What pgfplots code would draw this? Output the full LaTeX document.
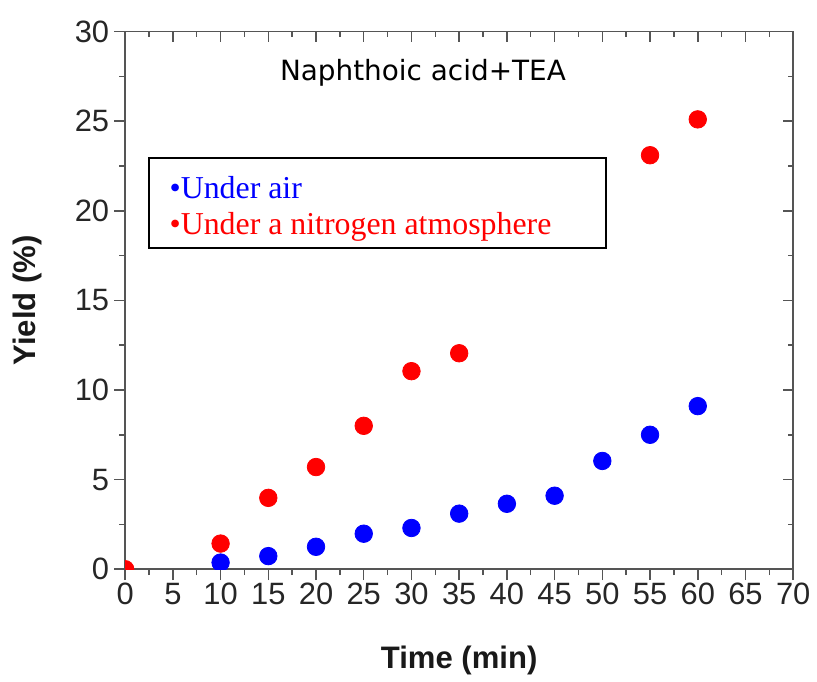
\documentclass[border=0pt]{standalone}
\usepackage{fontspec}
\setmainfont{Liberation Sans}
\newfontfamily\seriffont{Liberation Serif}
\newfontfamily\titlefont{DejaVu Sans}
\usepackage{pgfplots}
\pgfplotsset{compat=1.18}
\definecolor{axgray}{RGB}{85,85,85}
\begin{document}
\begin{tikzpicture}
\path (-62.85pt,-53.65pt) rectangle (345.65pt,285.85pt);
\begin{axis}[
  at={(0,0)}, anchor=south west, scale only axis,
  width=335.5pt, height=270pt,
  xmin=0, xmax=70, ymin=0, ymax=30,
  clip marker paths=true,
  xtick={0,5,...,70}, ytick={0,5,...,30},
  minor x tick num=1, minor y tick num=1,
  xtick pos=bottom, ytick pos=left,
  tick align=outside,
  major tick length=5.5pt, minor tick length=3pt,
  axis line style={axgray, line width=0.75pt},
  every tick/.style={axgray, line width=0.75pt},
  tick label style={font=\fontsize{15.5}{18}\selectfont, text=black!85},
  /pgf/number format/assume math mode=true,
  xticklabel style={yshift=2pt},
  yticklabel style={xshift=1pt},
  xlabel={Time (min)}, ylabel={Yield (\%)},
  every axis x label/.style={at={(axis description cs:0.5,-0.169)},anchor=center,
    font=\fontsize{15.6}{18}\selectfont\bfseries, text=black!90},
  every axis y label/.style={at={(axis description cs:-0.1456,0.5)},rotate=90,anchor=center,
    font=\fontsize{15.6}{18}\selectfont\bfseries, text=black!90},
]
\addplot[only marks, color=red, mark=*, mark size=4.4pt, mark options={draw=red, fill=red}]
  coordinates {(0,0) (10,1.43) (15,3.98) (20,5.7) (25,8.0) (30,11.05) (35,12.05) (55,23.1) (60,25.1)};
\addplot[only marks, color=blue, mark=*, mark size=4.4pt, mark options={draw=blue, fill=blue}]
  coordinates {(10,0.37) (15,0.73) (20,1.25) (25,1.98) (30,2.3) (35,3.1) (40,3.65) (45,4.1) (50,6.04) (55,7.5) (60,9.1)};
\draw[black, line width=1pt] (axis cs:2.53,17.93) rectangle (axis cs:50.4,22.93);
\node[anchor=base west, inner sep=0, text=blue, font=\seriffont\fontsize{16}{18}\selectfont] at (axis cs:4.62,20.7) {•Under air};
\node[anchor=base west, inner sep=0, text=red, font=\seriffont\fontsize{16}{18}\selectfont] at (axis cs:4.62,18.7) {•Under a nitrogen atmosphere};
\node[font=\titlefont\fontsize{14}{16}\selectfont, text=black] at (axis cs:31.2,27.7) {Naphthoic acid+TEA};
\end{axis}
\begin{axis}[
  at={(0,0)}, anchor=south west, scale only axis,
  width=335.5pt, height=270pt,
  xmin=0, xmax=70, ymin=0, ymax=30,
  xtick={0,5,...,70}, ytick={0,5,...,30},
  minor x tick num=1, minor y tick num=1,
  xtick pos=top, ytick pos=right,
  tick align=inside,
  xticklabels={}, yticklabels={},
  major tick length=5pt, minor tick length=2.5pt,
  axis line style={draw=none},
  every tick/.style={axgray, line width=0.75pt},
]
\end{axis}
\end{tikzpicture}
\end{document}
